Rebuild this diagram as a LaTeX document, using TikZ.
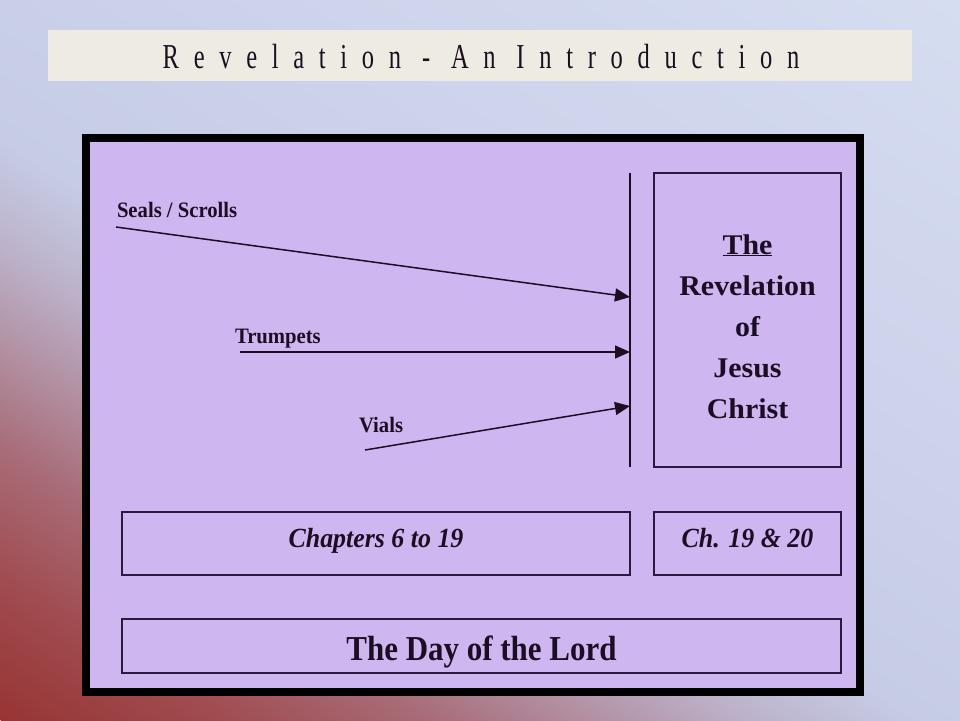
\documentclass[tikz,border=0pt]{standalone}
\usepackage{fontspec}
\setmainfont{Liberation Serif}
\newfontfamily\titlefont[FakeStretch=0.7,LetterSpace=42]{Liberation Serif}
\newfontfamily\labfont[FakeStretch=0.94]{Liberation Serif}
\newfontfamily\revfont[FakeStretch=1.05]{Liberation Serif}
\newfontfamily\chfont[FakeStretch=0.935]{Liberation Serif}
\newfontfamily\dayfont[FakeStretch=0.885]{Liberation Serif}
\usetikzlibrary{arrows.meta}
\definecolor{bgred}{RGB}{152,52,52}
\definecolor{bgA}{RGB}{160,76,80}
\definecolor{bgB}{RGB}{168,108,120}
\definecolor{bgC}{RGB}{176,138,155}
\definecolor{bgD}{RGB}{188,178,202}
\definecolor{bgE}{RGB}{198,204,230}
\definecolor{bgF}{RGB}{218,226,244}
\definecolor{titlebg}{RGB}{238,236,226}
\definecolor{lav}{RGB}{206,183,241}
\definecolor{ink}{RGB}{28,14,34}
\definecolor{boxline}{RGB}{42,26,62}
\pgfdeclarehorizontalshading{bgshade}{2600bp}{color(0bp)=(bgred); color(120bp)=(bgA); color(230bp)=(bgB); color(300bp)=(bgC); color(400bp)=(bgD); color(490bp)=(bgE); color(1300bp)=(bgF)}
\tikzset{
  panel/.style={draw=boxline, line width=1.5pt, inner sep=0pt, outer sep=0pt},
  frame/.style={draw=black, line width=8pt, fill=lav, inner sep=0pt, outer sep=0pt},
  txt/.style={text=ink, inner sep=0pt, outer sep=0pt},
  conn/.style={draw=ink, line width=1.5pt, -{Triangle[length=15pt,width=13pt]}},
}
\begin{document}
\begin{tikzpicture}[x=1pt,y=-1pt]
\useasboundingbox (0,0) rectangle (960,720);
% background
\begin{scope}
  \clip (0,0) rectangle (960,720);
  \fill[bgF] (0,0) rectangle (960,720);
  \node[inner sep=0pt, outer sep=0pt, anchor=west, rotate=57.7] (bgsh) at (0,720) {\pgfuseshading{bgshade}};
\end{scope}
% title
\node[fill=titlebg, minimum width=864, minimum height=51, inner sep=0pt] (titlebox) at (480,55.5) {};
\node[txt, anchor=base] (title) at (481,68) {\titlefont\fontsize{35}{40}\selectfont Revelation - An Introduction};
% main frame
\node[frame, minimum width=774, minimum height=554] (frame) at (473,415) {};
% revelation box
\node[panel, minimum width=187, minimum height=294] (rev) at (747.5,320) {};
\node[txt, anchor=base] (r1) at (747.5,254) {\revfont\bfseries\fontsize{28.5}{30}\selectfont\underline{The}};
\node[txt, anchor=base] (r2) at (747.5,295) {\revfont\bfseries\fontsize{28.5}{30}\selectfont Revelation};
\node[txt, anchor=base] (r3) at (747.5,336) {\revfont\bfseries\fontsize{28.5}{30}\selectfont of};
\node[txt, anchor=base] (r4) at (747.5,377) {\revfont\bfseries\fontsize{28.5}{30}\selectfont Jesus};
\node[txt, anchor=base] (r5) at (747.5,418) {\revfont\bfseries\fontsize{28.5}{30}\selectfont Christ};
% vertical bar
\coordinate (vtop) at (630,173);
\coordinate (vbot) at (630,467);
\draw[draw=ink, line width=1.5pt] (vtop) -- (vbot);
% arrows
\coordinate (s0) at (116,227);
\coordinate (s1) at (630,297);
\coordinate (t0) at (240,352);
\coordinate (t1) at (630,352);
\coordinate (v0) at (365,450);
\coordinate (v1) at (630,406);
\draw[conn] (s0) -- (s1);
\draw[conn] (t0) -- (t1);
\draw[conn] (v0) -- (v1);
\node[txt, anchor=base west] (seals) at (117,217) {\labfont\bfseries\fontsize{22}{26}\selectfont Seals / Scrolls};
\node[txt, anchor=base west] (trump) at (235,343) {\labfont\bfseries\fontsize{22}{26}\selectfont Trumpets};
\node[txt, anchor=base west] (vials) at (359,432) {\labfont\bfseries\fontsize{22}{26}\selectfont Vials};
% chapter boxes
\node[panel, minimum width=508, minimum height=63] (chap) at (376,543.5) {};
\node[txt, anchor=base] (chapT) at ([yshift=-3.5pt]chap.center) {\chfont\bfseries\itshape\fontsize{27.7}{30}\selectfont Chapters 6 to 19};
\node[panel, minimum width=187, minimum height=63] (ch) at (747.5,543.5) {};
\node[txt, anchor=base] (chT) at ([yshift=-3.5pt]ch.center) {\chfont\bfseries\itshape\fontsize{27.7}{30}\selectfont Ch. 19 \& 20};
% day box
\node[panel, minimum width=719, minimum height=54] (day) at (481.5,646) {};
\node[txt, anchor=base] (dayT) at ([yshift=-14pt]day.center) {\dayfont\bfseries\fontsize{35}{40}\selectfont The Day of the Lord};
\end{tikzpicture}
\end{document}
